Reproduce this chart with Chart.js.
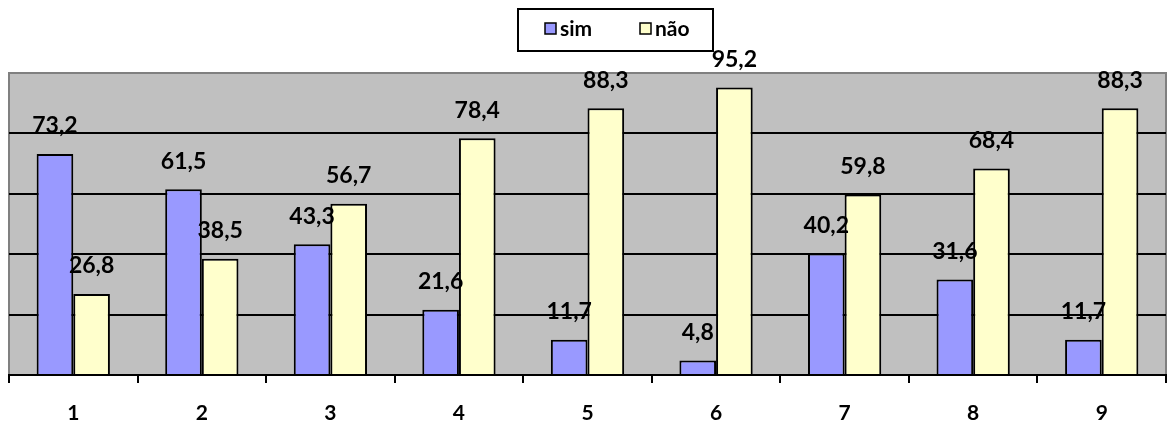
<!DOCTYPE html>
<html>
<head>
<meta charset="utf-8">
<script src="https://cdn.jsdelivr.net/npm/chart.js@4/dist/chart.umd.min.js"></script>
<style>
html, body { margin: 0; padding: 0; background: #fff; }
#wrap { width: 1168px; height: 425px; }
</style>
</head>
<body>
<div id="wrap"><canvas id="myChart" width="1168" height="425"></canvas></div>
<script>
var categorias = ['1', '2', '3', '4', '5', '6', '7', '8', '9'];
var sim = [73.2, 61.5, 43.3, 21.6, 11.7, 4.8, 40.2, 31.6, 11.7];
var nao = [26.8, 38.5, 56.7, 78.4, 88.3, 95.2, 59.8, 68.4, 88.3];
var nomes = ['sim', 'não'];
var cores = ['#9999FF', '#FFFFCC'];

var fonte = 'Lato, "Open Sans", sans-serif';

// fundo cinza e moldura da área do gráfico
var fundo = {
	id: 'fundo',
	beforeDraw: function(chart) {
		var c = chart.ctx, a = chart.chartArea;
		c.save();
		c.fillStyle = '#C0C0C0';
		c.fillRect(a.left, a.top, a.right - a.left, a.bottom - a.top);
		c.strokeStyle = '#808080';
		c.lineWidth = 2;
		c.strokeRect(a.left, a.top, a.right - a.left, a.bottom - a.top);
		c.restore();
	}
};

// valores por cima das barras
var rotulos = {
	id: 'rotulos',
	afterDatasetsDraw: function(chart) {
		var c = chart.ctx;
		c.save();
		c.font = 'bold 23px ' + fonte;
		c.fillStyle = '#000';
		c.textAlign = 'center';
		c.textBaseline = 'middle';
		chart.data.datasets.forEach(function(ds, i) {
			chart.getDatasetMeta(i).data.forEach(function(bar, j) {
				c.fillText(String(ds.data[j]).replace('.', ','), bar.x, bar.y - 28);
			});
		});
		c.restore();
	}
};

// legenda com caixa
var legenda = {
	id: 'legenda',
	afterDraw: function(chart) {
		var c = chart.ctx;
		c.save();
		c.fillStyle = '#fff';
		c.fillRect(518, 9, 195, 42);
		c.strokeStyle = '#000';
		c.lineWidth = 2;
		c.strokeRect(518, 9, 195, 42);
		c.font = 'bold 21px ' + fonte;
		c.textBaseline = 'middle';
		var xs = [545, 640];
		nomes.forEach(function(n, i) {
			c.fillStyle = cores[i];
			c.fillRect(xs[i], 23, 11, 11);
			c.strokeStyle = '#000';
			c.lineWidth = 1.5;
			c.strokeRect(xs[i], 23, 11, 11);
			c.fillStyle = '#000';
			c.fillText(n, xs[i] + 15, 29);
		});
		c.restore();
	}
};

var ctx = document.getElementById('myChart').getContext('2d');
var chart = new Chart(ctx, {
	type: 'bar',
	data: {
		labels: categorias,
		datasets: [{
			label: nomes[0],
			data: sim,
			backgroundColor: cores[0],
			borderColor: '#000',
			borderWidth: 2
		}, {
			label: nomes[1],
			data: nao,
			backgroundColor: cores[1],
			borderColor: '#000',
			borderWidth: 2
		}]
	},
	options: {
		responsive: false,
		animation: false,
		layout: { padding: { left: 9, right: 2, top: 73, bottom: 0 } },
		categoryPercentage: 0.57,
		barPercentage: 1,
		plugins: {
			legend: { display: false },
			tooltip: { enabled: false }
		},
		scales: {
			x: {
				afterFit: function(s) { s.height = 50; },
				border: { color: '#000', width: 2 },
				grid: {
					offset: true,
					drawOnChartArea: false,
					color: '#000',
					lineWidth: 2,
					tickLength: 8
				},
				ticks: {
					color: '#000',
					padding: 18,
					font: { family: fonte, size: 21, weight: 'bold' }
				}
			},
			y: {
				min: 0,
				max: 100,
				afterFit: function(s) { s.width = 0; },
				border: { display: false },
				ticks: { display: false, stepSize: 20 },
				grid: {
					drawTicks: false,
					lineWidth: 2,
					color: function(c) {
						var v = c.tick ? c.tick.value : 0;
						return (v > 0 && v < 100) ? '#000' : 'rgba(0,0,0,0)';
					}
				}
			}
		}
	},
	plugins: [fundo, rotulos, legenda]
});
</script>
</body>
</html>
